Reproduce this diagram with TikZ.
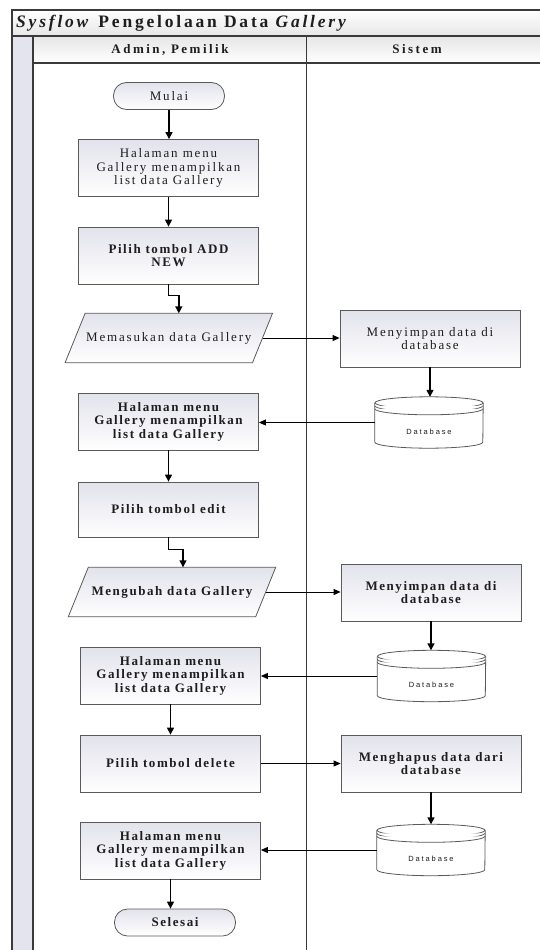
\documentclass[tikz,border=0pt]{standalone}
\usepackage{fontspec}
\setmainfont{Liberation Serif}
\newfontfamily\dbfamily{Liberation Sans}[LetterSpace=25]
\usetikzlibrary{arrows.meta,calc,backgrounds}

\definecolor{laneline}{HTML}{3A3A3A}
\definecolor{boxline}{HTML}{5A5A5A}
\definecolor{boxtop}{HTML}{E2E2EC}
\definecolor{stripfill}{HTML}{E4E4EE}
\definecolor{bandgray}{HTML}{E6E6E6}
\definecolor{ink}{HTML}{1E1E1E}

\newcommand\titlefont{\fontsize{17.5}{19}\selectfont\bfseries\addfontfeatures{LetterSpace=16}}
\newcommand\headfont{\fontsize{13}{15}\selectfont\bfseries\addfontfeatures{LetterSpace=19}}
\newcommand\regtext{\fontsize{13}{13.6}\selectfont\addfontfeatures{LetterSpace=14}}
\newcommand\boldtext{\fontsize{13}{13.6}\selectfont\bfseries\addfontfeatures{LetterSpace=12}}
\newcommand\dbtextfont{\fontsize{7.5}{8.5}\selectfont\dbfamily}

% database symbol: cylinder with a stacked top rim
\newcommand\dbcyl[1]{%
  \draw[cyl] ($(#1.north west)+(0,6)$) -- ($(#1.south west)+(0,-6)$)
    arc[start angle=180,end angle=0,x radius=54,y radius=6]
    -- ($(#1.north east)+(0,6)$);
  \draw[cyl] ($(#1.north)+(0,6)$) ellipse[x radius=54,y radius=6];
  \draw[cyl] ($(#1.north west)+(0,9)$) arc[start angle=180,end angle=0,x radius=54,y radius=6];
  \draw[cyl] ($(#1.north west)+(0,12)$) arc[start angle=180,end angle=0,x radius=54,y radius=6];
}
% input/output symbol: parallelogram around a named node, top edge shifted right
\newcommand\iodraw[1]{%
  \begin{scope}[on background layer]
    \path[iofill] ($(#1.north west)+(10,0)$) -- ($(#1.north east)+(10,0)$)
      -- ($(#1.south east)+(-10,0)$) -- ($(#1.south west)+(-10,0)$) -- cycle;
  \end{scope}
}

\tikzset{
  lane/.style={draw=laneline, line width=1.2pt},
  boxbase/.style={draw=boxline, line width=0.8pt, top color=boxtop, bottom color=white,
    text=ink, align=center, inner sep=2pt},
  proc/.style={boxbase, rectangle, minimum width=180pt, minimum height=57pt, font=\regtext},
  procb/.style={proc, font=\boldtext},
  term/.style={boxbase, rectangle, rounded corners=13pt, minimum height=27pt, font=\regtext},
  iobox/.style={rectangle, minimum width=187pt, minimum height=49pt, inner sep=0pt,
    text=ink, align=center, font=\regtext},
  iofill/.style={draw=boxline, line width=0.8pt, top color=boxtop, bottom color=white},
  dbnode/.style={rectangle, minimum width=108pt, minimum height=51pt, inner sep=0pt},
  dblabel/.style={font=\dbtextfont, text=ink, inner sep=0pt},
  cyl/.style={draw=boxline, line width=0.8pt, fill=white},
  flow/.style={draw=black, line width=1.4pt, -{Triangle[length=7pt,width=7pt]}},
  flowh/.style={draw=black, line width=0.9pt, -{Triangle[length=7pt,width=6pt]}},
}

\begin{document}
\begin{tikzpicture}[x=1pt,y=-1pt]
\useasboundingbox (0,0) rectangle (540,950);

% pool frame, title band, lane headers and side strip
\fill[top color=white, bottom color=bandgray] (12,10) rectangle (540,36);
\fill[top color=bandgray, bottom color=white] (33,36) rectangle (540,63);
\fill[stripfill] (12,36) rectangle (33,950);
\draw[lane] (540,10) -- (12,10) -- (12,950);
\draw[lane] (12,36) -- (540,36);
\draw[lane] (33,63) -- (540,63);
\draw[lane] (33,36) -- (33,950);
\draw[lane] (306.5,36) -- (306.5,950);

\node[anchor=west, font=\titlefont, text=ink, inner sep=0pt] (title) at (16,23)
  {\textit{Sysflow} Pengelolaan Data \textit{Gallery}};
\node[font=\headfont, text=ink] (laneA) at (170,49.5) {Admin, Pemilik};
\node[font=\headfont, text=ink] (laneB) at (417,49.5) {Sistem};

% Admin, Pemilik lane
\node[term, minimum width=111pt] (mulai) at (169,96) {Mulai};
\node[proc] (h1) at (168.5,168) {Halaman menu\\Gallery menampilkan\\list data Gallery};
\node[procb] (add) at (168.5,255.5) {Pilih tombol ADD\\NEW};
\node[iobox] (in1) at (168.8,338) {Memasukan data Gallery};
\iodraw{in1}
\node[procb] (h2) at (168.5,421.5) {Halaman menu\\Gallery menampilkan\\list data Gallery};
\node[procb, minimum height=55pt] (edit) at (168.5,509.5) {Pilih tombol edit};
\node[iobox, font=\boldtext] (in2) at (172,592) {Mengubah data Gallery};
\iodraw{in2}
\node[procb] (h3) at (170.5,675.5) {Halaman menu\\Gallery menampilkan\\list data Gallery};
\node[procb] (del) at (170.5,763.5) {Pilih tombol delete};
\node[procb] (h4) at (170.5,850.5) {Halaman menu\\Gallery menampilkan\\list data Gallery};
\node[term, minimum width=121pt, font=\boldtext] (sel) at (175,922.5) {Selesai};

% Sistem lane
\node[proc] (s1) at (430,338.5) {Menyimpan data di\\database};
\node[dbnode] (db1) at (429,422.5) {};
\dbcyl{db1}
\node[dblabel] (db1t) at ($(db1.center)+(0,9)$) {Database};

\node[procb] (s2) at (431,592.5) {Menyimpan data di\\database};
\node[dbnode] (db2) at (431.5,676) {};
\dbcyl{db2}
\node[dblabel] (db2t) at ($(db2.center)+(0,9)$) {Database};

\node[procb] (hap) at (431,763.5) {Menghapus data dari\\database};
\node[dbnode] (db3) at (431,850) {};
\dbcyl{db3}
\node[dblabel] (db3t) at ($(db3.center)+(0,9)$) {Database};

% connectors
\draw[flow] (mulai.south) -- (mulai.south |- h1.north);
\draw[flow] (h1.south) -- (add.north);
\draw[flow] (add.south) -- ++(0,11) -| ([xshift=10pt]in1.north);
\draw[flowh] (in1.east) -- (in1.east -| s1.west);
\draw[flow] (s1.south) -- (s1.south |- db1.north);
\draw[flowh] (db1.west) -- (db1.west -| h2.east);
\draw[flow] (h2.south) -- (edit.north);
\draw[flow] (edit.south) -- ++(0,12) -| ([xshift=11pt]in2.north);
\draw[flowh] (in2.east) -- (in2.east -| s2.west);
\draw[flow] (s2.south) -- (s2.south |- db2.north);
\draw[flowh] (db2.west) -- (db2.west -| h3.east);
\draw[flow] (h3.south) -- (del.north);
\draw[flowh] (del.east) -- (hap.west);
\draw[flow] (hap.south) -- (hap.south |- db3.north);
\draw[flowh] (db3.west) -- (db3.west -| h4.east);
\draw[flow] (h4.south) -- (h4.south |- sel.north);
\end{tikzpicture}
\end{document}
